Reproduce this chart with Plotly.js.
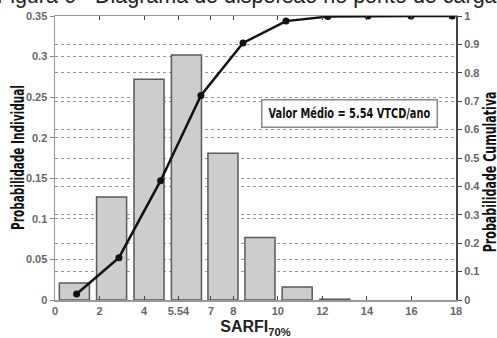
<!DOCTYPE html>
<html>
<head>
<meta charset="utf-8">
<script src="https://cdn.plot.ly/plotly-3.0.1.min.js"></script>
<style>html,body{margin:0;padding:0;background:#fff;}#chart{width:497px;height:338px;}</style>
</head>
<body>
<div id="chart"></div>
<script>
// Histogram bins (SARFI 70%) and individual probabilities
const binCenters = [0.87, 2.54, 4.22, 5.9, 7.54, 9.2, 10.87, 12.56];
const probIndividual = [0.021, 0.127, 0.272, 0.302, 0.181, 0.077, 0.016, 0.001];
// Cumulative probability curve
const cumX = [0.97, 2.87, 4.74, 6.55, 8.44, 10.37, 12.25, 14.05, 15.98, 17.83];
const probCumulative = [0.021, 0.149, 0.42, 0.72, 0.905, 0.982, 0.998, 1.0, 1.0, 1.0];
// Axis ticks
const xTickVals = [0, 2, 4, 5.54, 7, 8, 10, 12, 14, 16, 18];
const xTickText = ['0', '2', '4', '5.54', '7', '8', '10', '12', '14', '16', '18'];
const titleText = 'Figura 6 - Diagrama de dispersão no ponto de carga';
const meanText = 'Valor Médio = 5.54 VTCD/ano';
const yLeftTitle = 'Probabilidade Individual';
const yRightTitle = 'Probabilidade Cumulativa';

const tickFont = {family: 'Liberation Sans, Arial, sans-serif', size: 11, weight: 'bold', color: '#666'};
const boldSans = 'DejaVu Sans, sans-serif';

const traces = [
  {
    type: 'bar', x: binCenters, y: probIndividual, width: 1.35,
    marker: {color: '#cdcdcd', line: {color: '#5a5a5a', width: 1.5}},
    yaxis: 'y', hoverinfo: 'x+y'
  },
  {
    type: 'scatter', mode: 'lines+markers', x: cumX, y: probCumulative,
    line: {color: '#111', width: 2.5}, marker: {color: '#111', size: 7},
    yaxis: 'y2'
  }
];

const layout = {
  width: 497, height: 338,
  margin: {l: 55, r: 41, t: 16, b: 38},
  paper_bgcolor: '#fff', plot_bgcolor: '#fff',
  showlegend: false,
  xaxis: {
    range: [0, 18], tickvals: xTickVals, ticktext: xTickText,
    ticks: 'inside', ticklen: 4, tickcolor: '#444', tickwidth: 1,
    showline: true, linecolor: '#999', linewidth: 1.5, mirror: 'ticks',
    showgrid: false, zeroline: false, tickfont: tickFont,
    title: {text: '<b>SARFI<sub>70%</sub></b>', font: {family: 'Liberation Sans, Arial, sans-serif', size: 16, color: '#222'}, standoff: 5}
  },
  yaxis: {
    range: [0, 0.35], dtick: 0.05, tick0: 0,
    ticks: 'outside', ticklen: 4, tickcolor: '#888',
    showline: true, linecolor: '#999', linewidth: 1.5,
    showgrid: true, gridcolor: '#999', griddash: 'dot', gridwidth: 1,
    zeroline: false, tickfont: tickFont
  },
  yaxis2: {
    overlaying: 'y', side: 'right',
    range: [0, 1], dtick: 0.1, tick0: 0,
    ticks: 'outside', ticklen: 4, tickcolor: '#444',
    showline: true, linecolor: '#444', linewidth: 2,
    showgrid: true, gridcolor: '#999', griddash: 'dot', gridwidth: 1,
    zeroline: false, tickfont: tickFont
  },
  annotations: [
    {
      text: titleText, xref: 'paper', yref: 'paper', x: 0.478, y: 1 + 6/284,
      xanchor: 'center', yanchor: 'bottom', showarrow: false,
      font: {family: 'Liberation Sans, Arial, sans-serif', size: 21.5, color: '#222'}
    },
    {
      text: meanText, xref: 'x', yref: 'y2', x: 13.24, y: 0.655,
      xanchor: 'center', yanchor: 'middle', showarrow: false,
      width: 170, height: 22, align: 'center',
      bgcolor: '#fff', bordercolor: '#888', borderwidth: 1.5, borderpad: 2,
      font: {family: boldSans, size: 14, weight: 'bold', color: '#111'}
    },
    {
      text: yLeftTitle, xref: 'paper', yref: 'paper', x: -0.0948, y: 0.502,
      xanchor: 'center', yanchor: 'middle', showarrow: false, textangle: -90,
      font: {family: boldSans, size: 18, weight: 'bold', color: '#111'}
    },
    {
      text: yRightTitle, xref: 'paper', yref: 'paper', x: 1.0848, y: 0.449,
      xanchor: 'center', yanchor: 'middle', showarrow: false, textangle: -90,
      font: {family: boldSans, size: 17, weight: 'bold', color: '#111'}
    }
  ]
};

// the original uses a condensed bold face; squeeze the wide fallback to the same length
const condensed = {};
condensed[meanText] = 162;
condensed[yLeftTitle] = 145;
condensed[yRightTitle] = 161;

Plotly.newPlot('chart', traces, layout, {displayModeBar: false, staticPlot: true}).then(function () {
  document.querySelectorAll('.annotation [clip-path]').forEach(function (el) {
    el.removeAttribute('clip-path');
  });
  document.querySelectorAll('text.annotation-text').forEach(function (el) {
    const len = condensed[el.textContent];
    if (!len) return;
    const bb = el.getBBox();
    if (!bb.width) return;
    const s = len / bb.width;
    const cx = bb.x + bb.width / 2;
    const prev = el.getAttribute('transform') || '';
    el.setAttribute('transform', prev + ' translate(' + cx + ',0) scale(' + s + ',1) translate(' + (-cx) + ',0)');
  });
});
</script>
</body>
</html>
